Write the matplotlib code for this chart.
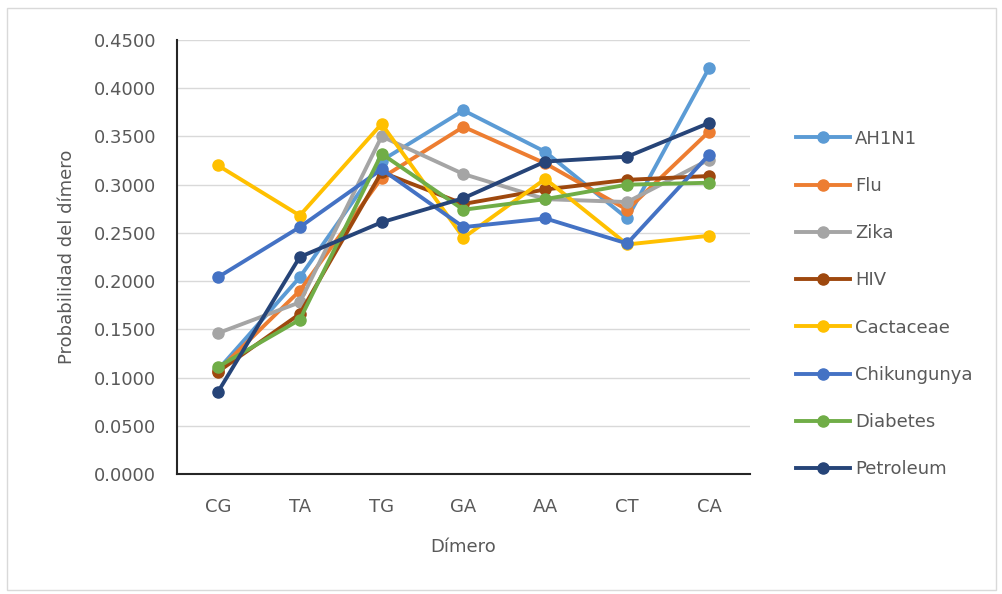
import matplotlib.pyplot as plt
from matplotlib.patches import Rectangle
from matplotlib.ticker import FormatStrFormatter

dimeros = ['CG', 'TA', 'TG', 'GA', 'AA', 'CT', 'CA']

ah1n1 = [0.108, 0.204, 0.325, 0.377, 0.334, 0.265, 0.421]
flu = [0.107, 0.190, 0.307, 0.360, 0.322, 0.274, 0.355]
zika = [0.146, 0.178, 0.350, 0.311, 0.285, 0.282, 0.326]
hiv = [0.106, 0.166, 0.313, 0.280, 0.295, 0.305, 0.309]
cactaceae = [0.320, 0.268, 0.363, 0.245, 0.306, 0.238, 0.247]
chikungunya = [0.204, 0.256, 0.316, 0.256, 0.265, 0.239, 0.331]
diabetes = [0.111, 0.160, 0.332, 0.274, 0.285, 0.300, 0.302]
petroleum = [0.085, 0.225, 0.261, 0.286, 0.324, 0.329, 0.364]

series = [
    ('AH1N1', ah1n1, '#5B9BD5'),
    ('Flu', flu, '#ED7D31'),
    ('Zika', zika, '#A5A5A5'),
    ('HIV', hiv, '#9E480E'),
    ('Cactaceae', cactaceae, '#FFC000'),
    ('Chikungunya', chikungunya, '#4472C4'),
    ('Diabetes', diabetes, '#70AD47'),
    ('Petroleum', petroleum, '#264478'),
]

plt.rcParams['font.family'] = ['DejaVu Sans']
text_color = '#595959'
fs = 13

fig = plt.figure(figsize=(10.03, 5.94), dpi=100)
ax = fig.add_axes([177 / 1003, 1 - 474 / 594, (750 - 177) / 1003, (474 - 40) / 594])

x = range(len(dimeros))
for name, vals, color in series:
    ax.plot(x, vals, color=color, lw=2.8, marker='o', markersize=8, label=name)

ax.set_xlim(-0.5, len(dimeros) - 0.5)
ax.set_ylim(0, 0.45)
ax.set_yticks([i * 0.05 for i in range(10)])
ax.yaxis.set_major_formatter(FormatStrFormatter('%.4f'))
ax.set_xticks(list(x))
ax.set_xticklabels(dimeros)
ax.tick_params(length=0, labelsize=fs, colors=text_color)
ax.tick_params(axis='y', pad=15)
ax.tick_params(axis='x', pad=17)
ax.grid(axis='y', color='#D9D9D9', lw=1)
ax.set_axisbelow(True)
for side in ['top', 'right']:
    ax.spines[side].set_visible(False)
for side in ['left', 'bottom']:
    ax.spines[side].set_color('#262626')
    ax.spines[side].set_linewidth(1.5)

ax.set_xlabel('Dímero', fontsize=fs, color=text_color, labelpad=16)
ax.set_ylabel('Probabilidad del dímero', fontsize=fs, color=text_color, labelpad=13)

leg = ax.legend(loc='upper left', bbox_to_anchor=(1.067, 0.81), frameon=False,
                fontsize=fs, labelspacing=1.62, handlelength=3.0,
                handletextpad=0.3, borderaxespad=0)
for t in leg.get_texts():
    t.set_color(text_color)

# light frame around the whole chart
fig.patches.append(Rectangle((7 / 1003, 4 / 594), 989 / 1003, 582 / 594,
                             transform=fig.transFigure, fill=False,
                             edgecolor='#D9D9D9', lw=1))

fig.savefig('out.png', dpi=100)
